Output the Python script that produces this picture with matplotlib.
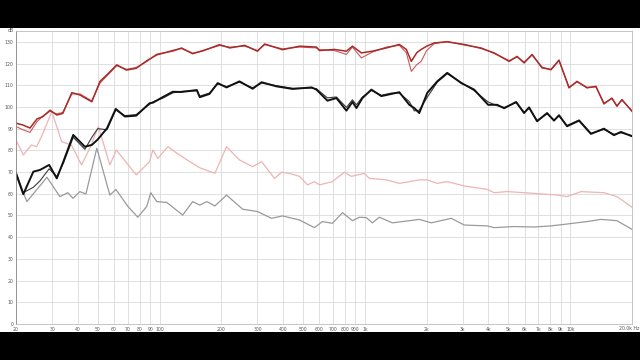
import matplotlib
matplotlib.use("Agg")
import matplotlib.pyplot as plt
from matplotlib.patches import Rectangle

# frequency response readings (Hz, dB)
red_freq = [20, 21.6, 23.4, 25.3, 27, 29.3, 31.6, 33.8, 37.4, 41, 46.8, 51.3, 55.3, 61.9, 69, 77, 87, 97,
            116, 128, 145, 162, 196, 220, 260, 300, 325, 397, 481, 581, 601, 711, 813, 870, 962, 1088,
            1273, 1472, 1592, 1684, 1790, 1880, 2000, 2178, 2519, 3047, 3686, 4265, 5042, 5514, 5964,
            6524, 7295, 8068, 8822, 9868, 10796, 12072, 13352, 14601, 15971, 16892, 17864, 20000]
red_a = [92.5, 91.7, 90.3, 94.5, 95.5, 98.5, 96.3, 97, 106.6, 105.5, 102.4, 111.8, 114.7, 119.4, 117, 117.8,
         121.4, 124, 126, 127, 124.7, 125.8, 128.7, 127.2, 128.4, 125.7, 129, 126.4, 128, 127.6, 126, 126.5,
         125.7, 128, 124.9, 125.7, 127.2, 128.8, 126.5, 121, 125, 126.5, 128, 129.5, 130, 128.8, 127, 124.9,
         121, 123.3, 120.3, 124.2, 118, 117.3, 121.6, 108.8, 111.8, 108.8, 109.5, 101.4, 104.1, 100.3,
         103.4, 98]
red_b = [91, 89.5, 88.3, 93.2, 95.8, 98, 96.8, 97.5, 106, 106, 102.8, 111, 114.2, 119, 117.4, 118.2,
         121, 124.4, 125.6, 127.3, 124.4, 126, 128.3, 127.6, 128, 126, 128.7, 126.8, 127.6, 127.2, 126.4, 126,
         124.2, 127.6, 122.6, 125.3, 127.6, 128.4, 125, 116.4, 119.5, 121, 126, 129.2, 130.2, 128.5, 127.3,
         124.6, 121.4, 123, 120.7, 123.9, 118.4, 117, 121.3, 109.2, 111.5, 109.1, 109.2, 101.8, 103.8, 100.6,
         103.1, 98.3]

black_freq = [20, 21.7, 24.3, 26.2, 29, 31.6, 34, 38, 43.3, 46.8, 50, 55.5, 61.2, 67.8, 77, 89.4, 93, 103.5,
              116, 128, 152, 157, 175, 192, 212, 245, 284, 314, 371, 445, 550, 581, 657, 727, 813, 870, 910,
              973, 1076, 1203, 1346, 1472, 1646, 1741, 1841, 2014, 2252, 2519, 2948, 3406, 3984, 4406, 4768,
              5454, 5964, 6306, 6900, 7716, 8340, 8822, 9654, 11046, 12620, 14601, 16340, 17660, 20000]
black_a = [69.4, 59.8, 70.2, 71, 73.3, 67.1, 74.8, 87.1, 81.7, 82.5, 85, 90.2, 99.1, 95.6, 96, 101.7, 102,
           104.5, 107, 106.9, 107.8, 104.5, 106, 111, 109, 111.8, 108.4, 111.4, 109.5, 108.3, 109, 108, 102.9,
           104.1, 98.3, 102.3, 99.5, 104.1, 108, 105, 106, 106.8, 101, 99.5, 97.2, 106.5, 111.8, 115.7, 111,
           108, 101, 101, 99.4, 102.3, 97.2, 99.8, 93.4, 97.2, 93.7, 96.2, 91.1, 93.7, 87.6, 90, 87, 88.5, 86.5]
black_b = [70, 60.5, 63, 66, 71.5, 68, 74, 86, 80.5, 86, 90, 89.5, 98.6, 96, 96.5, 101.2, 102.4,
           104, 106.5, 107.2, 107.4, 105, 106.4, 110.6, 109.4, 111.4, 108.8, 111, 109.8, 108.6, 108.7, 108.4,
           104.2, 104.6, 99.8, 103.3, 101, 104.6, 107.6, 105.4, 106.4, 106.4, 102.5, 98.2, 98.5, 104.5, 111.4,
           115.3, 111.3, 107.5, 102.3, 100.6, 99.8, 102, 97.6, 99.4, 93.8, 96.8, 94, 95.8, 91.5, 94, 87.9, 89.6,
           87.4, 88.1, 86.8]

pink_freq = [20, 21.7, 23.8, 25.2, 26.6, 29.9, 33.4, 37.2, 41.7, 45.7, 50.4, 57.3, 61.6, 77, 89.4, 92.8, 98.1,
             109.8, 121.8, 140.5, 157, 186, 212, 245, 284, 314, 363, 393, 430, 481, 526, 568, 601, 695, 795,
             860, 993, 1052, 1273, 1472, 1841, 2014, 2252, 2519, 3047, 3942, 4265, 4930, 6672, 8630, 9654,
             11298, 14601, 16892, 20000]
pink_db = [84.8, 77.9, 82.5, 81.7, 86.3, 97.8, 84, 82.5, 73.3, 80.9, 91, 73.3, 80.2, 68.7, 74.8, 80.2, 76.3,
           81.7, 78.6, 74.8, 72, 69.4, 81.7, 75.6, 72.5, 74.8, 67.1, 69.9, 69.4, 68, 64.1, 65.6, 64.1, 65.6,
           69.9, 68, 69.4, 67.1, 66.4, 64.8, 66.4, 66.4, 64.8, 65.6, 63.6, 62, 60.5, 61, 60.2, 59.4, 58.7, 61,
           60.5, 58.7, 53.8]

gray_freq = [20, 22.6, 28.3, 32.7, 35.8, 37.9, 40.9, 43.8, 49.5, 57.3, 61.3, 70.1, 78.4, 86.7, 90.6, 97,
             108.5, 129.7, 145, 157, 170, 186, 212, 254, 300, 351, 397, 481, 568, 621, 695, 778, 870, 940,
             1017, 1088, 1177, 1361, 1841, 2106, 2635, 3047, 3942, 4265, 5334, 6672, 8068, 9334, 12072,
             14120, 16892, 20000]
gray_db = [68.7, 56.4, 67.6, 58.7, 60.5, 57.9, 61, 59.9, 81, 59.4, 62, 54.2, 49.2, 54.2, 60.5, 56.4, 56,
           50.2, 56.4, 54.8, 56.4, 54.4, 59.4, 52.9, 51.8, 48.7, 49.8, 47.9, 44.4, 47.2, 46.4, 51.3, 47.6,
           49.2, 49, 46.6, 49.2, 46.6, 48.2, 46.6, 48.7, 45.6, 45.2, 44.4, 44.9, 44.7, 45.2, 45.9, 47.2, 48.2,
           47.6, 43.6]

xtick_vals = [20, 30, 40, 50, 60, 70, 80, 90, 100, 200, 300, 400, 500, 600, 700, 800, 900,
              1000, 2000, 3000, 4000, 5000, 6000, 7000, 8000, 9000, 10000, 20000]
xtick_labels = ["20", "30", "40", "50", "60", "70", "80", "90", "100", "200", "300", "400", "500", "600",
                "700", "800", "900", "1k", "2k", "3k", "4k", "5k", "6k", "7k", "8k", "9k", "10k", ""]
last_label = "20.0k Hz"
ytick_vals = [0, 10, 20, 30, 40, 50, 60, 70, 80, 90, 100, 110, 120, 130]

fig = plt.figure(figsize=(6.4, 3.6), dpi=100, facecolor="black")
fig.add_artist(Rectangle((0, 28 / 360), 1, 304 / 360, transform=fig.transFigure,
                         facecolor="white", edgecolor="none", zorder=0))
ax = fig.add_axes([16 / 640, 36 / 360, 616 / 640, 293 / 360])
ax.set_facecolor("white")

ax.plot(gray_freq, gray_db, color="#9a9a9a", lw=0.9)
ax.plot(pink_freq, pink_db, color="#eeb4b4", lw=0.9)
ax.plot(black_freq, black_b, color="#3a3a3a", lw=0.8)
ax.plot(black_freq, black_a, color="#111111", lw=1.4)
ax.plot(red_freq, red_b, color="#c85a5a", lw=0.8)
ax.plot(red_freq, red_a, color="#a82a2a", lw=1.1)

ax.set_xscale("log")
ax.set_xlim(20, 20000)
ax.set_ylim(0, 135)
ax.set_xticks(xtick_vals)
ax.set_xticklabels(xtick_labels)
ax.xaxis.set_minor_locator(matplotlib.ticker.NullLocator())
ax.set_yticks(ytick_vals)
ax.tick_params(length=0, labelsize=3.3, colors="#555555", pad=2)
ax.grid(True, color="#dadada", lw=0.6)
ax.set_axisbelow(True)
for s in ax.spines.values():
    s.set_color("#bbbbbb")
    s.set_linewidth(0.6)
ax.spines["left"].set_color("#888888")

fig.text(11 / 640, 1 - 30 / 360, "dB", fontsize=3.3, color="#555555", ha="center", va="center")
fig.text(639 / 640, 1 - 328.5 / 360, last_label, fontsize=3.3, color="#555555", ha="right", va="center")

fig.savefig("out.png", dpi=100, facecolor="black")
